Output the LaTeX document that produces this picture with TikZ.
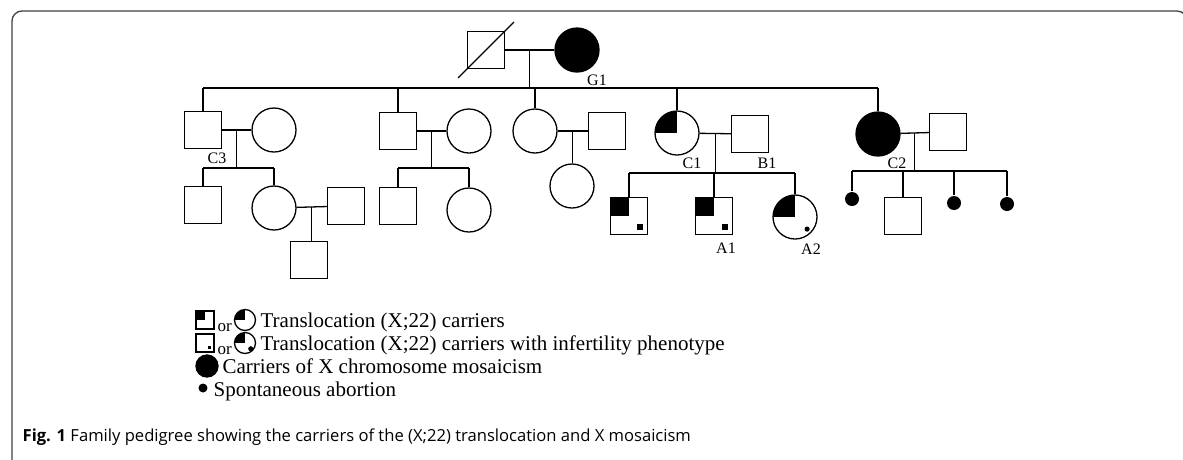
\documentclass[tikz,border=0pt]{standalone}
\usepackage{fontspec}
\setmainfont{Liberation Serif}
\newfontfamily\capfont{Open Sans}
\usetikzlibrary{calc}

\begin{document}
\begin{tikzpicture}[x=1pt, y=-1pt, line width=1.3pt,
    male/.style={draw, rectangle, minimum size=37pt, inner sep=0pt},
    female/.style={draw, circle, minimum size=44pt, inner sep=0pt},
    mosaic/.style={female, fill=black},
    abort/.style={circle, fill=black, minimum size=14pt, inner sep=0pt},
    carrM/.style={male, path picture={
        \fill (path picture bounding box.center) rectangle (path picture bounding box.north west);}},
    carrF/.style={female, path picture={
        \fill (path picture bounding box.center) rectangle (path picture bounding box.north west);}},
    infM/.style={male, path picture={
        \fill (path picture bounding box.center) rectangle (path picture bounding box.north west);
        \fill ($(path picture bounding box.center)!0.45!(path picture bounding box.south east)$)
          rectangle ($(path picture bounding box.center)!0.75!(path picture bounding box.south east)$);}},
    infF/.style={female, path picture={
        \fill (path picture bounding box.center) rectangle (path picture bounding box.north west);
        \fill ($(path picture bounding box.center)!0.55!(path picture bounding box.south east)$) circle[radius=2.6pt];}},
    dotM/.style={male, path picture={
        \fill ($(path picture bounding box.center)!0.3!(path picture bounding box.south east)$)
          rectangle ($(path picture bounding box.center)!0.7!(path picture bounding box.south east)$);}},
    tag/.style={font=\fontsize{16}{18}\selectfont, inner sep=0pt},
    legtxt/.style={font=\fontsize{21}{24}\selectfont, anchor=base west, inner sep=0pt},
    ortxt/.style={font=\fontsize{17}{20}\selectfont, anchor=base west, inner sep=0pt}
  ]
    \useasboundingbox (0,0) rectangle (1183,459);
    \clip (0,0) rectangle (1183,459);
    \draw[black!75, line width=1.3pt, rounded corners=10pt] (12,470) -- (12,11) -- (1187,11) -- (1187,470);

    % generation I
    \node[male] (gf) at (486,50) {};
    \draw ($(gf.south west)!-0.23!(gf.north east)$) -- ($(gf.north east)!-0.23!(gf.south west)$);
    \node[mosaic] (g1) at (577,50) {};
    \node[tag] at (597,80) {G1};
    \draw (gf) -- (g1);
    \coordinate (gmid) at ($(gf.east)!0.5!(g1.west)$);
    \coordinate (gbar) at (0,88);

    % generation II
    \node[male]   (c3)  at (203,130) {};
    \node[female] (c3w) at (274,130) {};
    \node[male]   (s2)  at (398,131) {};
    \node[female] (s2w) at (469,131) {};
    \node[female] (d3)  at (535,131) {};
    \node[male]   (d3h) at (607,131) {};
    \node[carrF]  (c1)  at (677,133) {};
    \node[male]   (b1)  at (750,134) {};
    \node[mosaic] (c2)  at (878,134) {};
    \node[male]   (c2h) at (948,132) {};
    \node[tag] at (217,158) {C3};
    \node[tag] at (692,163) {C1};
    \node[tag] at (767,163) {B1};
    \node[tag] at (897,163) {C2};

    \draw (gmid) -- (gmid |- gbar);
    \draw (c3.north |- gbar) -- (c2.north |- gbar);
    \foreach \k in {c3, s2, d3, c1, c2}
      \draw (\k.north) -- (\k.north |- gbar);

    \draw (c3) -- (c3w);
    \draw (s2) -- (s2w);
    \draw (d3) -- (d3h);
    \draw (c1) -- (b1);
    \draw (c2) -- (c2h);

    % generation III
    \node[male]   (c3a) at (203,205) {};
    \node[female] (c3b) at (274,208) {};
    \node[male]   (c3bh) at (346,206) {};
    \node[male]   (c3bs) at (309,260) {};
    \node[male]   (s2a) at (398,206) {};
    \node[female] (s2b) at (469,210) {};
    \node[female] (d3a) at (572,186) {};
    \node[infM]   (a0)  at (629,216) {};
    \node[infM]   (a1)  at (714,216) {};
    \node[infF]   (a2)  at (795,217) {};
    \node[abort]  (ab1) at (852,199) {};
    \node[male]   (c2a) at (903,216) {};
    \node[abort]  (ab2) at (954,203) {};
    \node[abort]  (ab3) at (1007,204) {};
    \node[tag] at (726,248) {A1};
    \node[tag] at (811,249) {A2};

    % sibships
    \coordinate (m3) at ($(c3.east)!0.5!(c3w.west)$);
    \coordinate (bar3) at (0,168);
    \draw (m3) -- (m3 |- bar3);
    \draw (c3a.north |- bar3) -- (c3b.north |- bar3);
    \foreach \k in {c3a, c3b}
      \draw (\k.north) -- (\k.north |- bar3);

    \coordinate (m2) at ($(s2.east)!0.5!(s2w.west)$);
    \draw (m2) -- (m2 |- bar3);
    \draw (s2a.north |- bar3) -- (s2b.north |- bar3);
    \foreach \k in {s2a, s2b}
      \draw (\k.north) -- (\k.north |- bar3);

    \coordinate (md) at ($(d3.east)!0.5!(d3h.west)$);
    \draw (md) -- (md |- d3a.north);

    \coordinate (m1) at ($(c1.east)!0.5!(b1.west)$);
    \coordinate (bar1) at (0,173);
    \draw (m1) -- (m1 |- bar1);
    \draw (a0.north |- bar1) -- (a2.north |- bar1);
    \foreach \k in {a0, a1, a2}
      \draw (\k.north) -- (\k.north |- bar1);

    \coordinate (m5) at ($(c2.east)!0.5!(c2h.west)$);
    \coordinate (bar5) at (0,171);
    \draw (m5) -- (m5 |- bar5);
    \draw (ab1.north |- bar5) -- (ab3.north |- bar5);
    \foreach \k in {ab1, c2a, ab2, ab3}
      \draw (\k.north) -- (\k.north |- bar5);

    % generation IV
    \draw (c3b) -- (c3bh);
    \coordinate (m4) at ($(c3b.east)!0.5!(c3bh.west)$);
    \draw (m4) -- (m4 |- c3bs.north);

    % legend
    \node[carrM, minimum size=18pt] (l1m) at (205,320) {};
    \node[ortxt] (l1or) at (217,331) {or};
    \node[carrF, minimum size=21pt] (l1f) at (245,320) {};
    \node[legtxt] (l1t) at (260,327) {Translocation (X;22) carriers};

    \node[dotM, minimum size=18pt] (l2m) at (205,343) {};
    \node[ortxt] (l2or) at (217,354) {or};
    \node[infF, minimum size=21pt] (l2f) at (245,343) {};
    \node[legtxt] (l2t) at (260,350) {Translocation (X;22) carriers with infertility phenotype};

    \node[mosaic, minimum size=22pt] (l3f) at (207,366) {};
    \node[legtxt] (l3t) at (222,373) {Carriers of X chromosome mosaicism};

    \node[abort, minimum size=9pt] (l4f) at (203,388) {};
    \node[legtxt] (l4t) at (213,396) {Spontaneous abortion};

    % caption
    \node[anchor=base west, inner sep=0pt, font=\capfont\fontsize{16.6}{20}\selectfont] (cap) at (22,441)
      {\textbf{Fig. 1} Family pedigree showing the carriers of the (X;22) translocation and X mosaicism};
\end{tikzpicture}
\end{document}
